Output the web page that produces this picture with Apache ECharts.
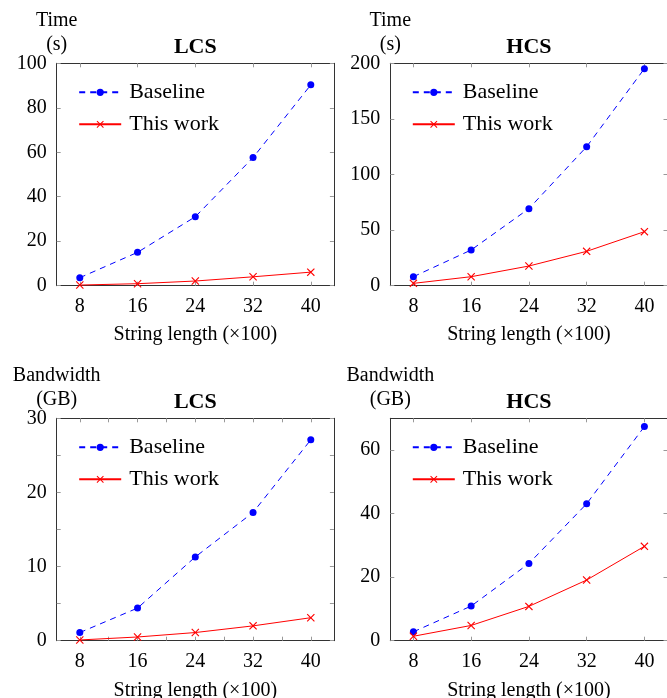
<!DOCTYPE html>
<html>
<head>
<meta charset="utf-8">
<script src="https://cdn.jsdelivr.net/npm/echarts@6/dist/echarts.min.js"></script>
<style>
  html, body { margin: 0; padding: 0; background: #fff; }
  #chart { width: 667px; height: 698px; }
</style>
</head>
<body>
<div id="chart"></div>
<script>
// string length (x100)
const lengths = [8, 16, 24, 32, 40]

// time (s)
const timeLcsBaseline = [3.6, 15.0, 31.0, 57.6, 90.3]
const timeLcsOurs = [0.3, 0.9, 2.1, 4.0, 6.1]
const timeHcsBaseline = [8.1, 32.1, 69.3, 125.0, 195.2]
const timeHcsOurs = [2.1, 8.1, 17.7, 30.9, 48.6]

// bandwidth (GB)
const bwLcsBaseline = [1.1, 4.4, 11.3, 17.3, 27.1]
const bwLcsOurs = [0.1, 0.5, 1.1, 2.0, 3.1]
const bwHcsBaseline = [2.8, 10.9, 24.3, 43.1, 67.4]
const bwHcsOurs = [1.4, 4.8, 10.8, 19.1, 29.7]

// tick marks / tick labels
const xTicksCoarse = [8, 16, 24, 32, 40]
const xTicksFine = [8, 12, 16, 20, 24, 28, 32, 36, 40]
const xLabels = [8, 16, 24, 32, 40]
const yTicksTimeLcs = [0, 20, 40, 60, 80, 100]
const yTicksTimeHcs = [0, 50, 100, 150, 200]
const yTicksBwLcs = [0, 5, 10, 15, 20, 25, 30]
const yLabelsBwLcs = [0, 10, 20, 30]
const yTicksBwHcs = [0, 20, 40, 60]

const FONT = 'Liberation Serif'
const BLUE = '#0000ff'
const RED = '#ff0000'
const CROSS = 'path://M0,1L1,0L5,4L9,0L10,1L6,5L10,9L9,10L5,6L1,10L0,9L4,5Z'

const panels = [
  { title: 'LCS', yName: 'Time\n(s)', yMax: 100, yTicks: yTicksTimeLcs, yLabels: yTicksTimeLcs,
    xTicks: xTicksCoarse, base: timeLcsBaseline, ours: timeLcsOurs,
    left: 56.7, top: 63.3, nameGap: 39 },
  { title: 'HCS', yName: 'Time\n(s)', yMax: 200, yTicks: yTicksTimeHcs, yLabels: yTicksTimeHcs,
    xTicks: xTicksCoarse, base: timeHcsBaseline, ours: timeHcsOurs,
    left: 390.3, top: 63.3, nameGap: 39 },
  { title: 'LCS', yName: 'Bandwidth\n(GB)', yMax: 30, yTicks: yTicksBwLcs, yLabels: yLabelsBwLcs,
    xTicks: xTicksFine, base: bwLcsBaseline, ours: bwLcsOurs,
    left: 56.7, top: 418.3, nameGap: 40 },
  { title: 'HCS', yName: 'Bandwidth\n(GB)', yMax: 70, yTicks: yTicksBwHcs, yLabels: yTicksBwHcs,
    xTicks: xTicksCoarse, base: bwHcsBaseline, ours: bwHcsOurs,
    left: 390.3, top: 418.3, nameGap: 40 },
]

const W = 277.2
const H = 222.4

const grid = []
const xAxis = []
const yAxis = []
const series = []
const title = []
const legend = []

const frameLine = { show: true, onZero: false, lineStyle: { color: '#333', width: 1 } }
const tickStyle = { color: '#999', width: 1 }
const labelFont = { fontFamily: FONT, fontSize: 20, color: '#000' }

panels.forEach((p, i) => {
  grid.push({ left: p.left, top: p.top, width: W, height: H, containLabel: false, outerBoundsMode: 'none' })

  // bottom + mirrored top x axis
  xAxis.push({
    type: 'value', gridIndex: i, min: 4.8, max: 43.2, position: 'bottom',
    axisLine: frameLine, splitLine: { show: false },
    axisTick: { inside: true, length: 4, lineStyle: tickStyle, customValues: p.xTicks },
    axisLabel: { ...labelFont, margin: 11, customValues: xLabels },
    name: 'String length (×100)', nameLocation: 'middle', nameGap: p.nameGap, nameMoveOverlap: false,
    nameTextStyle: { fontFamily: FONT, fontSize: 20, color: '#000' },
  })
  xAxis.push({
    type: 'value', gridIndex: i, min: 4.8, max: 43.2, position: 'top',
    axisLine: frameLine, splitLine: { show: false },
    axisTick: { inside: true, length: 4, lineStyle: tickStyle, customValues: p.xTicks },
    axisLabel: { show: false },
  })

  // left + mirrored right y axis
  yAxis.push({
    type: 'value', gridIndex: i, min: 0, max: p.yMax, position: 'left',
    axisLine: frameLine, splitLine: { show: false },
    axisTick: { inside: true, length: 4, lineStyle: tickStyle, customValues: p.yTicks },
    axisLabel: { ...labelFont, margin: 10, customValues: p.yLabels },
    name: p.yName, nameLocation: 'end', nameGap: 6.5, nameMoveOverlap: false,
    nameTextStyle: { fontFamily: FONT, fontSize: 20, color: '#000', lineHeight: 24, align: 'center' },
  })
  yAxis.push({
    type: 'value', gridIndex: i, min: 0, max: p.yMax, position: 'right',
    axisLine: frameLine, splitLine: { show: false },
    axisTick: { inside: true, length: 4, lineStyle: tickStyle, customValues: p.yTicks },
    axisLabel: { show: false },
  })

  title.push({
    text: p.title, left: p.left + W / 2, top: p.top - 27, textAlign: 'center', padding: 0,
    textStyle: { fontFamily: FONT, fontSize: 22, fontWeight: 'bold', color: '#000' },
  })

  legend.push({
    data: ['Baseline', 'This work'], orient: 'vertical', left: p.left + 21.5, top: p.top + 18,
    padding: 0, itemWidth: 42, itemHeight: 9, itemGap: 10,
    textStyle: { fontFamily: FONT, fontSize: 22, color: '#000', padding: [0, 0, 0, 3] },
  })

  series.push({
    name: 'Baseline', type: 'line', xAxisIndex: 2 * i, yAxisIndex: 2 * i,
    data: lengths.map((x, k) => [x, p.base[k]]),
    symbol: 'circle', symbolSize: 7,
    lineStyle: { color: BLUE, width: 1, type: [6, 5] },
    itemStyle: { color: BLUE },
    animation: false,
  })
  series.push({
    name: 'This work', type: 'line', xAxisIndex: 2 * i, yAxisIndex: 2 * i,
    data: lengths.map((x, k) => [x, p.ours[k]]),
    symbol: CROSS, symbolSize: 8,
    lineStyle: { color: RED, width: 1 },
    itemStyle: { color: RED },
    animation: false,
  })
})

const chart = echarts.init(document.getElementById('chart'), null, { renderer: 'canvas' })
chart.setOption({
  animation: false,
  backgroundColor: '#fff',
  title, legend, grid, xAxis, yAxis, series,
})
window.addEventListener('resize', () => chart.resize())
</script>
</body>
</html>
